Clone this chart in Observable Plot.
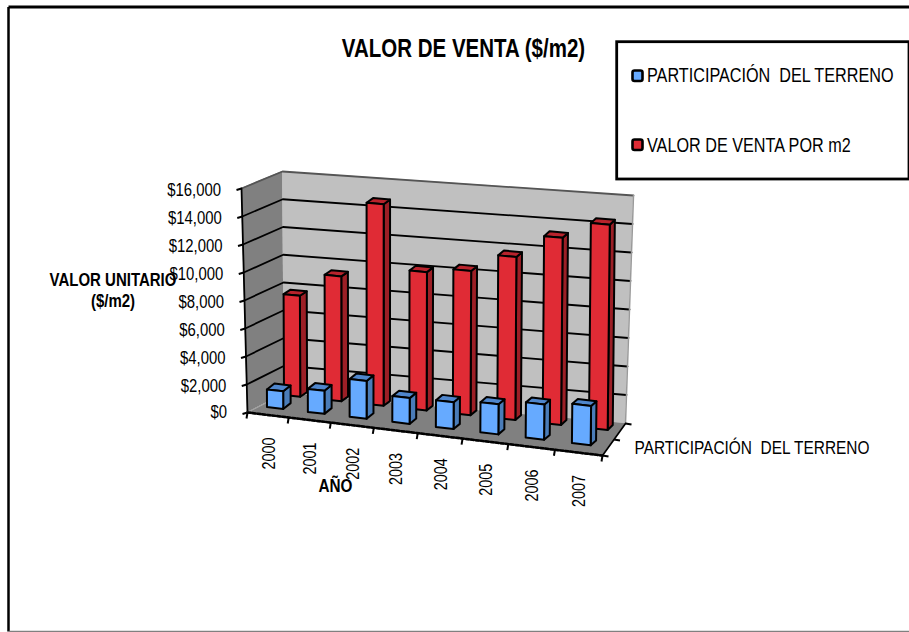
<!DOCTYPE html>
<html>
<head>
<meta charset="utf-8">
<script src="https://cdn.jsdelivr.net/npm/d3@7"></script>
<script src="https://cdn.jsdelivr.net/npm/@observablehq/plot@0.6"></script>
<style>
html,body{margin:0;padding:0;background:#fff;overflow:hidden}
svg{display:block}
svg text{white-space:pre;font-family:"Liberation Sans",Arial,sans-serif}
</style>
</head>
<body>
<script>
// ---- data ----
const years = ["2000","2001","2002","2003","2004","2005","2006","2007"];
const participacion = [1270,1650,2700,1830,1900,2120,2470,2740];
const valorVenta = [7255,8930,14360,9810,10180,11460,13100,14300];
const valueTicks = [0,2000,4000,6000,8000,10000,12000,14000,16000];
const titleText = "VALOR DE VENTA ($/m2)";
const yAxisTitle = ["VALOR UNITARIO","($/m2)"];
const xAxisTitle = "AÑO";
const seriesNames = ["PARTICIPACIÓN  DEL TERRENO","VALOR DE VENTA POR m2"];

// ---- styles ----
const blue = {front:"#66aaff", side:"#4a7cb8", top:"#4f86cc"};
const red  = {front:"#e02b35", side:"#9c1f26", top:"#b8232c"};
const TALL = 1.22;

// ---- 3D box projection (category u 0..8, depth d 0..1, value v) ----
const VMAX = 16000, NCAT = years.length;
const box = {
  flb:[247,412], flt:[241,188], frb:[602,455], frt:[612,225],
  blb:[284,393], blt:[282,171], brb:[625,423], brt:[633,195]
};
const lerp = (a,b,t)=>a+(b-a)*t;
const lerp2 = (p,q,t)=>[lerp(p[0],q[0],t),lerp(p[1],q[1],t)];
// perspective: categories widen towards the viewer's right
const warp = u=>(40.4*u+0.45*u*u)/352;
function proj(u,d,v){
  const t=warp(u), w=v/VMAX;
  const bot=lerp2(lerp2(box.flb,box.frb,t),lerp2(box.blb,box.brb,t),d);
  const top=lerp2(lerp2(box.flt,box.frt,t),lerp2(box.blt,box.brt,t),d);
  return lerp2(bot,top,w);
}
// row frames of the two bar series on the floor
const rowBlue={x0:255.3,xs:350,y0:405.7,ys:41.3,dxL:7.6,dxR:5.3,dyL:-6,dyR:-4.6};
const rowRed ={x0:272.3,xs:350,y0:393.7,ys:37.9,dxL:7,dxR:5,dyL:-4.5,dyR:-5};
function barPt(r,u,v,back){
  const w=v/VMAX,t=warp(u);
  let x=r.x0+r.xs*t+(-1+3.5*t)*w;
  let y=r.y0+r.ys*t-w*(222+8*t);
  if(back){x+=lerp(r.dxL,r.dxR,t);y+=lerp(r.dyL,r.dyR,t);}
  return [x,y];
}
const seg=(id,a,b)=>({id,x1:a[0],y1:a[1],x2:b[0],y2:b[1]});
function barFaces(values,r,name){
  const fronts=[],sides=[],tops=[];
  values.forEach((v,i)=>{
    const a=i+0.29,b=i+0.69,id=name+i;
    fronts.push(seg(id,barPt(r,a,v),barPt(r,a,0)),seg(id,barPt(r,b,v),barPt(r,b,0)));
    sides.push(seg(id,barPt(r,b,v),barPt(r,b,0)),seg(id,barPt(r,b,v,true),barPt(r,b,0,true)));
    tops.push(seg(id,barPt(r,a,v,true),barPt(r,a,v)),seg(id,barPt(r,b,v,true),barPt(r,b,v)));
  });
  return {fronts,sides,tops};
}
const faceMark=(rows,fill,sw=2)=>Plot.area(rows,{x1:"x1",y1:"y1",x2:"x2",y2:"y2",z:"id",fill,stroke:"#000",strokeWidth:sw,strokeLinejoin:"round",curve:"linear"});
const pt=(id,p)=>({id,x:p[0],y:p[1]});
const lineMark=(rows,o)=>Plot.line(rows,{x:"x",y:"y",z:"id",curve:"linear",...o});

// walls
const backWall=[seg("b",proj(0,1,VMAX),proj(0,1,0)),seg("b",proj(NCAT,1,VMAX),proj(NCAT,1,0))];
const leftWall=[seg("l",proj(0,0,VMAX),proj(0,0,0)),seg("l",proj(0,1,VMAX),proj(0,1,0))];
const floor=[seg("f",proj(0,1,0),proj(0,0,0)),seg("f",proj(NCAT,1,0),proj(NCAT,0,0))];

// gridlines
const grid=valueTicks.filter(v=>v>0&&v<VMAX).flatMap(v=>[pt(v,proj(0,0,v)),pt(v,proj(0,1,v)),pt(v,proj(NCAT,1,v))]);
const topEdge=[pt("t",proj(0,0,VMAX)),pt("t",proj(0,1,VMAX)),pt("t",proj(NCAT,1,VMAX))];
const rightEdge=[pt("r",proj(NCAT,1,VMAX)),pt("r",proj(NCAT,1,0))];
const floorLeft=[pt("fl",proj(0,0,0)),pt("fl",proj(0,1,0))];

// axes lines and ticks
const valueAxis=[pt("v",proj(0,0,0)),pt("v",proj(0,0,VMAX))];
const valueTickRows=valueTicks.map(v=>{const p=proj(0,0,v);return seg(v,[p[0]-5,p[1]+1.5],p);});
const catAxis=[pt("c",proj(0,0,0)),pt("c",proj(NCAT,0,0))];
const catTickRows=d3.range(NCAT+1).map(i=>{const p=proj(i,0,0);return seg(i,p,[p[0]-1,p[1]+6]);});
const depthAxis=[pt("d",proj(NCAT,0,0)),pt("d",proj(NCAT,1,0))];
const depthTickRows=[0,0.5,1].map(d=>{const p=proj(NCAT,d,0);return seg(d,p,[p[0]+6,p[1]+1]);});
const tickSeg=(rows,sw=2)=>Plot.link(rows,{x1:"x1",y1:"y1",x2:"x2",y2:"y2",stroke:"#000",strokeWidth:sw});

const blueF=barFaces(participacion,rowBlue,"p");
const redF=barFaces(valorVenta,rowRed,"v");

// text
const valueLabels=valueTicks.map(v=>{const p=proj(0,0,v);return {x:p[0]-20.5,y:p[1]+(v>0?1.7:0),t:d3.format("$,")(v)};});
const yearLabels=years.map((t,i)=>{const p=proj(i+0.5,0,0);return {x:p[0]+1,y:p[1]+38.5,t};});

const legendRect=[{x1:616.7,x2:909,y1:41.7,y2:179}];
const legendSwatch=[{x1:632.5,x2:642.5,y1:70.5,y2:81,fill:blue.front},{x1:632.5,x2:642.5,y1:139.5,y2:150,fill:red.front}];
const legendText=[{x:646.5,y:75.5,t:seriesNames[0]},{x:646.5,y:145,t:seriesNames[1]}];

const plot=Plot.plot({
  width:909,height:632,margin:0,
  x:{domain:[0,909],range:[0,909],axis:null},
  y:{domain:[0,632],range:[0,632],axis:null},
  style:{background:"#fff",fontFamily:"Liberation Sans"},
  marks:[
    // chart frame
    Plot.link([{x1:8,y1:6.5,x2:909,y2:6.5}],{x1:"x1",y1:"y1",x2:"x2",y2:"y2",stroke:"#000",strokeWidth:3}),
    Plot.link([{x1:8,y1:6.5,x2:8,y2:631}],{x1:"x1",y1:"y1",x2:"x2",y2:"y2",stroke:"#000",strokeWidth:2.5}),
    Plot.link([{x1:8,y1:631,x2:909,y2:631}],{x1:"x1",y1:"y1",x2:"x2",y2:"y2",stroke:"#808080",strokeWidth:1.5}),
    // box
    Plot.area(backWall,{x1:"x1",y1:"y1",x2:"x2",y2:"y2",z:"id",fill:"#c0c0c0",curve:"linear"}),
    Plot.area(leftWall,{x1:"x1",y1:"y1",x2:"x2",y2:"y2",z:"id",fill:"#808080",curve:"linear"}),
    Plot.area(floor,{x1:"x1",y1:"y1",x2:"x2",y2:"y2",z:"id",fill:"#808080",curve:"linear"}),
    lineMark(grid,{stroke:"#000",strokeWidth:1.8}),
    lineMark(topEdge,{stroke:"#555",strokeWidth:1.8}),
    lineMark(rightEdge,{stroke:"#9a9a9a",strokeWidth:1.5}),
    lineMark(floorLeft,{stroke:"#a8a8a8",strokeWidth:1}),
    lineMark(valueAxis,{stroke:"#000",strokeWidth:1.8}),
    tickSeg(valueTickRows),
    lineMark(catAxis,{stroke:"#666",strokeWidth:2.5}),
    lineMark(catAxis,{stroke:"#000",strokeWidth:2.5,strokeDasharray:"3,2"}),
    tickSeg(catTickRows),
    lineMark(depthAxis,{stroke:"#000",strokeWidth:1.8}),
    tickSeg(depthTickRows),
    // red series
    faceMark(redF.sides,red.side),
    faceMark(redF.tops,red.top),
    faceMark(redF.fronts,red.front),
    // blue series
    faceMark(blueF.sides,blue.side),
    faceMark(blueF.tops,blue.top),
    faceMark(blueF.fronts,blue.front),
    // legend
    Plot.rect(legendRect,{x1:"x1",x2:"x2",y1:"y1",y2:"y2",fill:"#fff",stroke:"#000",strokeWidth:2.8}),
    Plot.rect(legendSwatch,{x1:"x1",x2:"x2",y1:"y1",y2:"y2",fill:"fill",stroke:"#000",strokeWidth:2.6,rx:2}),
    Plot.text(legendText,{x:"x",y:"y",text:"t",textAnchor:"start",fontSize:16.2,fill:"#000"}),
    // text
    Plot.text([titleText],{x:()=>463,y:()=>48,text:d=>d,fontSize:20.5,fontWeight:"bold",fill:"#000"}),
    Plot.text(valueLabels,{x:"x",y:"y",text:"t",textAnchor:"end",fontSize:14.9,fill:"#000"}),
    Plot.text(yearLabels,{x:"x",y:"y",text:"t",rotate:-90,fontSize:14.4,fill:"#000"}),
    Plot.text([yAxisTitle[0]],{x:()=>112.5,y:()=>280,text:d=>d,fontSize:15,fontWeight:"bold",fill:"#000"}),
    Plot.text([yAxisTitle[1]],{x:()=>112.5,y:()=>301,text:d=>d,fontSize:15,fontWeight:"bold",fill:"#000"}),
    Plot.text([xAxisTitle],{x:()=>335,y:()=>486,text:d=>d,fontSize:15.3,fontWeight:"bold",fill:"#000"}),
    Plot.text([seriesNames[0]],{x:()=>634,y:()=>447,text:d=>d,textAnchor:"start",fontSize:15.45,fill:"#000"})
  ]
});
document.body.append(plot);
// the reference's lettering is tall and narrow: stretch each label across its run
plot.querySelectorAll("text").forEach(t=>{
  const tr=t.getAttribute("transform")||"";
  t.setAttribute("transform",(tr+` scale(1,${TALL})`).trim());
});
</script>
</body>
</html>
